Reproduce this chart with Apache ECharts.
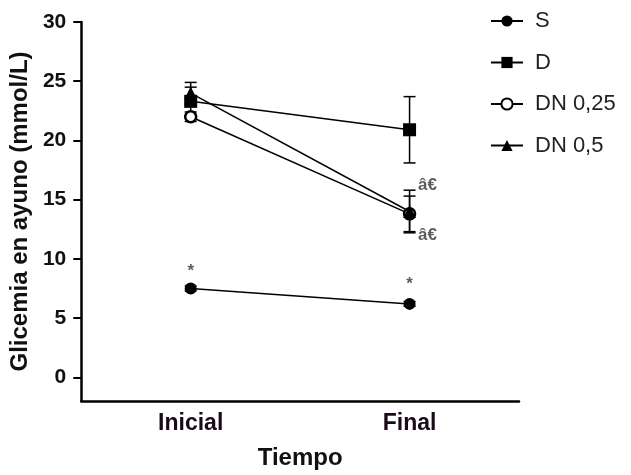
<!DOCTYPE html>
<html>
<head>
<meta charset="utf-8">
<script src="https://cdn.jsdelivr.net/npm/echarts@6/dist/echarts.min.js"></script>
<style>html,body{margin:0;padding:0;background:#fff}#c{width:631px;height:475px}</style>
</head>
<body>
<div id="c"></div>
<script>
const categories = ['Inicial', 'Final'];
const yTicks = [0, 5, 10, 15, 20, 25, 30];
const S = [7.5, 6.2];
const S_err = [0.2, 0.2];
const D = [23.3, 20.9];
const D_err = [1.2, 2.8];
const DN025 = [22.0, 13.8];
const DN025_err = [0.4, 1.5];
const DN05 = [24.0, 14.0];
const DN05_err = [0.9, 1.8];
const annotText = ['*', '*', 'â€', 'â€'];
const annotCat = ['Inicial', 'Final', 'Final', 'Final'];
const annotVal = [7.5, 6.2, 15.8, 12.2];

const chart = echarts.init(document.getElementById('c'), null, {renderer: 'canvas'});

function errSeries(name, vals, errs) {
  return {
    type: 'custom',
    name: name + '_err',
    silent: true,
    z: 1,
    data: vals.map((v, i) => [i, v - errs[i], v + errs[i]]),
    renderItem: function (params, api) {
      const x = api.value(0);
      const lo = api.coord([x, api.value(1)]);
      const hi = api.coord([x, api.value(2)]);
      const w = 6;
      const st = {stroke: '#000', lineWidth: 1.5};
      return {
        type: 'group',
        children: [
          {type: 'line', shape: {x1: lo[0], y1: lo[1], x2: hi[0], y2: hi[1]}, style: st},
          {type: 'line', shape: {x1: lo[0] - w, y1: lo[1], x2: lo[0] + w, y2: lo[1]}, style: st},
          {type: 'line', shape: {x1: hi[0] - w, y1: hi[1], x2: hi[0] + w, y2: hi[1]}, style: st}
        ]
      };
    }
  };
}

function lineSeries(name, vals, symbol, size, fill) {
  return {
    type: 'line',
    name: name,
    data: vals,
    symbol: symbol,
    symbolSize: size,
    z: 3,
    lineStyle: {color: '#000', width: 1.5},
    itemStyle: {color: fill, borderColor: '#000', borderWidth: fill === '#fff' ? 2.5 : 0}
  };
}

const font = 'Liberation Sans, Arial, sans-serif';

chart.setOption({
  animation: false,
  backgroundColor: '#fff',
  grid: {left: 81, right: 112, top: 22, bottom: 72, containLabel: false},
  legend: {
    orient: 'vertical',
    left: 485,
    top: 5,
    itemGap: 19.5,
    itemWidth: 32,
    itemHeight: 14,
    textStyle: {fontFamily: font, fontSize: 22, lineHeight: 22, color: '#222', padding: [0, 0, 0, 7]},
    data: ['S', 'D', 'DN 0,25', 'DN 0,5']
  },
  xAxis: {
    type: 'category',
    data: categories,
    boundaryGap: true,
    name: 'Tiempo',
    nameLocation: 'middle',
    nameGap: 45,
    nameTextStyle: {fontFamily: font, fontSize: 24, fontWeight: 'bold', color: '#111'},
    axisLine: {onZero: false, lineStyle: {color: '#000', width: 2.5}},
    axisTick: {alignWithLabel: true, length: 7, lineStyle: {color: '#000', width: 2}},
    axisLabel: {fontFamily: font, fontSize: 23, fontWeight: 'bold', color: '#1a0a1a', margin: 11},
    splitLine: {show: false}
  },
  yAxis: {
    type: 'value',
    min: -2,
    max: 30,
    name: 'Glicemia en ayuno (mmol/L)',
    nameLocation: 'middle',
    nameGap: 46,
    nameTextStyle: {fontFamily: font, fontSize: 24, fontWeight: 'bold', color: '#111'},
    axisLine: {show: true, lineStyle: {color: '#000', width: 2.5}},
    axisTick: {show: true, length: 8, customValues: yTicks, lineStyle: {color: '#000', width: 2}},
    axisLabel: {fontFamily: font, fontSize: 21, fontWeight: 'bold', color: '#111', margin: 15, customValues: yTicks},
    splitLine: {show: false}
  },
  series: [
    errSeries('S', S, S_err),
    errSeries('D', D, D_err),
    errSeries('DN 0,25', DN025, DN025_err),
    errSeries('DN 0,5', DN05, DN05_err),
    lineSeries('S', S, 'circle', 12, '#000'),
    lineSeries('D', D, 'rect', 13, '#000'),
    lineSeries('DN 0,25', DN025, 'circle', 11, '#fff'),
    lineSeries('DN 0,5', DN05, 'triangle', 13, '#000'),
    {
      type: 'scatter',
      name: 'annot',
      silent: true,
      symbolSize: 0,
      z: 5,
      data: annotText.map((t, i) => ({value: [annotCat[i], annotVal[i]], text: t, idx: i})),
      label: {
        show: true,
        formatter: p => p.data.text,
        fontFamily: font,
        fontWeight: 'bold',
        color: '#333',
        fontSize: 17
      },
      labelLayout: function (params) {
        const i = params.dataIndex;
        if (i === 0) return {dy: -17};
        if (i === 1) return {dy: -20};
        return {dx: 18, dy: i === 2 ? -5 : 2};
      }
    }
  ]
});
</script>
</body>
</html>
